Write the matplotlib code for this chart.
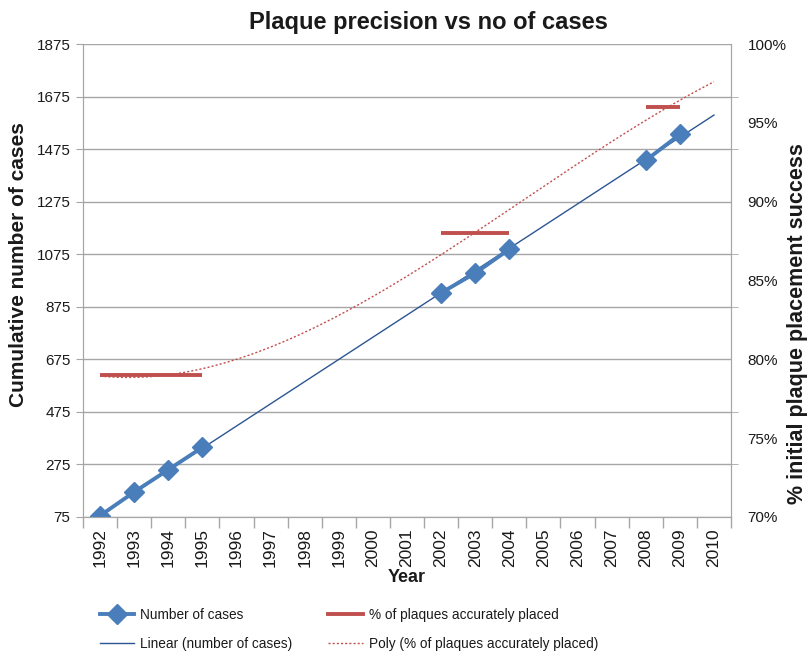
import numpy as np
import matplotlib
matplotlib.use("Agg")
import matplotlib.pyplot as plt
from matplotlib.lines import Line2D
from matplotlib.ticker import FuncFormatter

plt.rcParams['font.family'] = ['Liberation Sans', 'DejaVu Sans']

# ---- data ----
years = [str(y) for y in range(1992, 2011)]
cases = [80, 170, 255, 340, np.nan, np.nan, np.nan, np.nan, np.nan, np.nan,
         928, 1003, 1094, np.nan, np.nan, np.nan, 1432, 1531, np.nan]
pct_placed = [0.79, 0.79, 0.79, 0.79, np.nan, np.nan, np.nan, np.nan, np.nan, np.nan,
              0.88, 0.88, 0.88, np.nan, np.nan, np.nan, 0.96, 0.96, np.nan]
left_ticks = list(range(75, 1876, 200))
right_ticks = [0.70, 0.75, 0.80, 0.85, 0.90, 0.95, 1.00]

BLUE = '#4A7EBB'
NAVY = '#2C5693'
RED = '#C0504D'
GRID = '#A6A6A6'
TXT = '#1A1A1A'

fig = plt.figure(figsize=(8.07, 6.52), dpi=100)
ax = fig.add_axes([83/807, 1-517/652, 648/807, 473/652])

x = np.arange(len(years))
cases_arr = np.array(cases, dtype=float)
pct_arr = np.array(pct_placed, dtype=float)

# trendlines (Excel style, fitted on category index 1..n)
m = ~np.isnan(cases_arr)
lin = np.polyfit(x[m] + 1, cases_arr[m], 1)
xt = np.linspace(0, len(years) - 1, 200)
ax.plot(xt, np.polyval(lin, xt + 1), color=NAVY, lw=1.0, zorder=3)
ax.plot(x, cases_arr, color=BLUE, lw=2.8, marker='D', ms=10, zorder=4)

ax.set_xlim(-0.5, len(years) - 0.5)
ax.set_ylim(75, 1875)
ax.set_yticks(left_ticks)
ax.grid(axis='y', color=GRID, lw=1.0)
ax.set_axisbelow(True)
ax.set_xticks(x)
ax.set_xticklabels(years, rotation=90, fontsize=12.5, color=TXT)
ax.set_xticks(np.arange(-0.5, len(years), 1), minor=True)
ax.tick_params(axis='x', which='major', length=0, pad=8)
ax.tick_params(axis='x', which='minor', length=8, color=GRID, width=1)
ax.tick_params(axis='y', which='major', length=5, color=GRID, labelsize=11, labelcolor=TXT, pad=4)
ax.spines['top'].set_visible(False)
for s in ['left', 'right', 'bottom']:
    ax.spines[s].set_color(GRID)

fig.text(19/807, 1-265/652, 'Cumulative number of cases', rotation=90,
         ha='center', va='center', fontsize=15, fontweight='bold', color=TXT)
ax.set_xlabel('Year', fontsize=13, fontweight='bold', color=TXT, labelpad=1)

ax2 = ax.twinx()
mp = ~np.isnan(pct_arr)
poly = np.polyfit(x[mp] + 1, pct_arr[mp], 3)
ax2.plot(xt, np.polyval(poly, xt + 1), color=RED, lw=1.0, linestyle=(0, (1.5, 1.5)), zorder=3)
ax2.plot(x, pct_arr, color=RED, lw=2.8, solid_capstyle='butt', zorder=4)
ax2.set_ylim(0.70, 1.00)
ax2.set_yticks(right_ticks)
ax2.yaxis.set_major_formatter(FuncFormatter(lambda v, p: f"{v*100:.0f}%"))
ax2.tick_params(axis='y', which='major', length=0, labelsize=11, labelcolor=TXT, pad=12)
# right axis tick marks aligned with left gridlines
minor_pos = [0.70 + (t - 75) / 1800 * 0.30 for t in left_ticks]
ax2.set_yticks(minor_pos, minor=True)
ax2.tick_params(axis='y', which='minor', length=5, color=GRID)
ax2.spines['top'].set_visible(False)
for s in ['left', 'right', 'bottom']:
    ax2.spines[s].set_color(GRID)

fig.text(797/807, 1-324/652, '% initial plaque placement success', rotation=90,
         ha='center', va='center', fontsize=15.5, fontweight='bold', color=TXT)

fig.suptitle('Plaque precision vs no of cases', x=(247+609)/2/807, y=1-22/652,
             va='center', fontsize=17, fontweight='bold', color=TXT)

handles = [
    Line2D([], [], color=BLUE, lw=2.8, marker='D', ms=10),
    Line2D([], [], color=NAVY, lw=1.0),
    Line2D([], [], color=RED, lw=2.8),
    Line2D([], [], color=RED, lw=1.0, linestyle=(0, (1.5, 1.5))),
]
labels = ['Number of cases', 'Linear (number of cases)',
          '% of plaques accurately placed', 'Poly (% of plaques accurately placed)']
leg = fig.legend(handles, labels, ncol=2, loc='upper left',
                 bbox_to_anchor=(100/807, 1-608/652), bbox_transform=fig.transFigure,
                 frameon=False, borderpad=0, borderaxespad=0,
                 fontsize=9.8, handlelength=2.5, handletextpad=0.45,
                 columnspacing=2.65, labelspacing=1.1)
for t in leg.get_texts():
    t.set_color(TXT)

fig.savefig('out.png', dpi=100)
